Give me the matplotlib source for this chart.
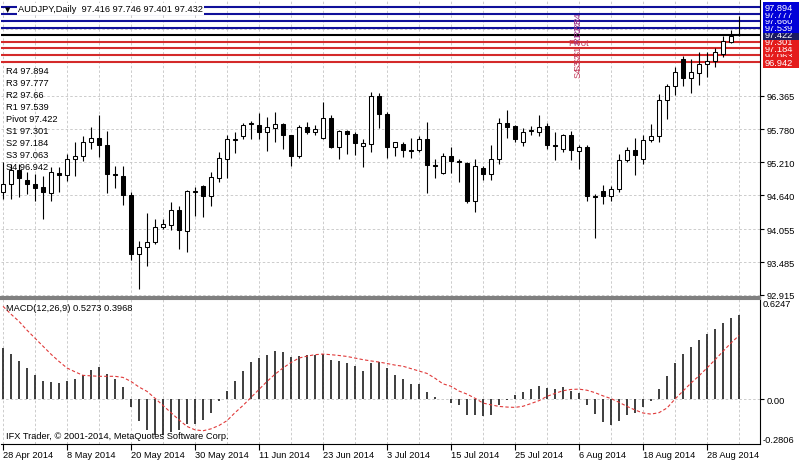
import numpy as np
import matplotlib
matplotlib.use("Agg")
import matplotlib.pyplot as plt
from matplotlib.patches import Rectangle

# AUDJPY daily candles, 28 Apr 2014 .. 3 Sep 2014 (one bar per weekday)
opens = [94.692, 94.830, 95.071, 94.899, 94.830, 94.778, 94.674, 95.019, 94.985, 95.261,
         95.313, 95.554, 95.640, 95.502, 95.002, 94.968, 94.640, 93.622, 93.743, 93.829,
         94.088, 94.123, 94.381, 94.019, 94.692, 94.795, 94.623, 94.933, 95.261, 95.589,
         95.658, 95.882, 95.865, 95.727, 95.813, 95.882, 95.675, 95.313, 95.830, 95.744,
         95.640, 95.986, 95.468, 95.761, 95.709, 95.485, 95.520, 96.365, 96.055, 95.468,
         95.520, 95.416, 95.416, 95.623, 95.157, 95.019, 95.313, 95.226, 95.192, 94.536,
         95.106, 95.002, 95.261, 95.899, 95.847, 95.571, 95.761, 95.744, 95.847, 95.502,
         95.433, 95.675, 95.399, 95.468, 94.623, 94.709, 94.623, 94.743, 95.244, 95.416,
         95.261, 95.589, 95.658, 96.296, 96.538, 97.003, 96.676, 96.762, 96.917, 96.969,
         97.090, 97.297, 97.416]
highs = [95.209, 95.175, 95.175, 95.037, 95.002, 94.968, 95.123, 95.123, 95.347, 95.571,
         95.658, 95.830, 96.037, 95.761, 95.140, 95.140, 94.692, 93.846, 94.329, 94.226,
         94.226, 94.519, 94.450, 94.726, 94.778, 94.812, 95.037, 95.382, 95.675, 95.744,
         95.899, 95.934, 96.072, 96.003, 96.089, 95.899, 95.692, 95.865, 95.916, 95.865,
         96.262, 96.037, 95.778, 95.778, 95.727, 95.606, 96.434, 96.417, 96.089, 95.571,
         95.571, 95.640, 95.658, 95.916, 95.261, 95.364, 95.468, 95.261, 95.209, 95.261,
         95.140, 95.502, 95.986, 96.124, 95.865, 95.813, 95.847, 96.037, 95.899, 95.727,
         95.709, 95.761, 95.502, 95.502, 94.657, 94.812, 94.795, 95.347, 95.468, 95.640,
         95.675, 95.882, 96.400, 96.572, 96.865, 97.055, 97.003, 97.124, 97.124, 97.193,
         97.400, 97.504, 97.746]
lows = [94.571, 94.571, 94.605, 94.657, 94.536, 94.226, 94.536, 94.692, 94.881, 94.968,
        95.226, 95.433, 95.295, 94.674, 94.761, 94.467, 93.519, 93.018, 93.415, 93.795,
        94.054, 94.036, 93.708, 93.657, 94.278, 94.260, 94.450, 94.864, 94.933, 95.364,
        95.606, 95.606, 95.606, 95.399, 95.571, 95.433, 95.140, 95.278, 95.709, 95.692,
        95.606, 95.451, 95.261, 95.347, 95.330, 95.123, 95.382, 95.813, 95.278, 95.313,
        95.295, 95.278, 95.382, 94.674, 94.933, 95.002, 95.019, 94.864, 94.502, 94.347,
        94.899, 94.899, 95.175, 95.640, 95.554, 95.485, 95.675, 95.658, 95.433, 95.244,
        95.382, 95.244, 95.088, 94.536, 93.898, 94.485, 94.536, 94.692, 95.209, 94.985,
        95.175, 95.571, 95.571, 95.968, 96.382, 96.538, 96.417, 96.555, 96.693, 96.865,
        97.038, 97.279, 97.401]
closes = [94.830, 95.071, 94.933, 94.830, 94.761, 94.692, 95.037, 94.985, 95.261, 95.313,
          95.554, 95.640, 95.502, 95.002, 94.985, 94.640, 93.622, 93.743, 93.829, 94.088,
          94.140, 94.381, 94.036, 94.709, 94.709, 94.623, 94.950, 95.278, 95.606, 95.606,
          95.865, 95.899, 95.727, 95.830, 95.882, 95.675, 95.313, 95.830, 95.744, 95.796,
          95.986, 95.468, 95.761, 95.709, 95.537, 95.537, 96.365, 96.055, 95.468, 95.554,
          95.416, 95.410, 95.623, 95.157, 95.140, 95.313, 95.226, 95.220, 94.536, 95.140,
          95.002, 95.261, 95.899, 95.830, 95.623, 95.744, 95.778, 95.830, 95.502, 95.490,
          95.675, 95.416, 95.468, 94.623, 94.610, 94.623, 94.743, 95.244, 95.416, 95.330,
          95.589, 95.658, 96.296, 96.538, 96.779, 96.676, 96.779, 96.917, 96.969, 97.124,
          97.314, 97.400, 97.432]

# MACD(12,26,9): main as histogram, signal as dashed line
macd = [0.318, 0.281, 0.239, 0.194, 0.148, 0.114, 0.106, 0.100, 0.114, 0.127,
        0.152, 0.183, 0.198, 0.156, 0.127, 0.073, -0.052, -0.135, -0.191, -0.223,
        -0.223, -0.207, -0.191, -0.156, -0.156, -0.129, -0.087, -0.015, 0.052, 0.110,
        0.177, 0.231, 0.256, 0.273, 0.302, 0.293, 0.260, 0.266, 0.277, 0.273,
        0.281, 0.246, 0.239, 0.225, 0.204, 0.177, 0.225, 0.231, 0.194, 0.148,
        0.127, 0.094, 0.094, 0.044, 0.010, 0.002, -0.025, -0.035, -0.098, -0.102,
        -0.108, -0.098, -0.035, -0.004, 0.023, 0.044, 0.065, 0.079, 0.069, 0.065,
        0.073, 0.052, 0.037, -0.040, -0.094, -0.144, -0.164, -0.139, -0.102, -0.087,
        -0.052, -0.010, 0.065, 0.146, 0.225, 0.281, 0.323, 0.370, 0.406, 0.439,
        0.474, 0.506, 0.5273]
signal = [0.579, 0.530, 0.485, 0.430, 0.380, 0.330, 0.280, 0.235, 0.194, 0.170,
          0.148, 0.145, 0.142, 0.142, 0.142, 0.135, 0.110, 0.075, 0.048, 0.005,
          -0.040, -0.085, -0.130, -0.171, -0.192, -0.198, -0.186, -0.165, -0.135, -0.085,
          -0.040, 0.010, 0.060, 0.110, 0.155, 0.194, 0.228, 0.256, 0.268, 0.277,
          0.281, 0.277, 0.272, 0.266, 0.256, 0.246, 0.238, 0.231, 0.222, 0.212,
          0.205, 0.190, 0.175, 0.160, 0.130, 0.095, 0.080, 0.050, 0.031, 0.005,
          -0.025, -0.036, -0.046, -0.050, -0.052, -0.045, -0.028, -0.010, 0.017, 0.035,
          0.052, 0.060, 0.062, 0.055, 0.040, 0.020, 0.003, -0.020, -0.046, -0.068,
          -0.087, -0.094, -0.085, -0.056, 0.000, 0.050, 0.100, 0.145, 0.194, 0.245,
          0.298, 0.350, 0.3968]

# pivot levels
level_names = ["R4", "R3", "R2", "R1", "Pivot", "S1", "S2", "S3", "S4"]
level_values = [97.894, 97.777, 97.66, 97.539, 97.422, 97.301, 97.184, 97.063, 96.942]

date_labels = ["28 Apr 2014", "8 May 2014", "20 May 2014", "30 May 2014", "11 Jun 2014",
               "23 Jun 2014", "3 Jul 2014", "15 Jul 2014", "25 Jul 2014", "6 Aug 2014",
               "18 Aug 2014", "28 Aug 2014"]
price_ticks = [96.365, 95.780, 95.210, 94.640, 94.055, 93.485, 92.915]
extra_grid = [96.940, 97.515]
macd_top, macd_bottom = 0.6247, -0.2806

plt.rcParams["font.family"] = ["Liberation Sans", "DejaVu Sans"]
plt.rcParams["font.size"] = 6.7

W, H = 799, 464
fig = plt.figure(figsize=(W / 100, H / 100), dpi=100)
ax = fig.add_axes([1 / W, 1 - 298 / H, 759 / W, 297 / H])
ax2 = fig.add_axes([1 / W, 1 - 445 / H, 759 / W, 145 / H])

n = len(opens)
x = np.arange(n)
xlim = (-0.25, 94.625)
grid_kw = dict(color="#c4c4c4", lw=0.6, dashes=(3, 2.5), zorder=0)

# ---- main price panel ----
ax.set_xlim(*xlim)
ax.set_ylim(92.880, 98.020)
for v in price_ticks + extra_grid:
    ax.axhline(v, **grid_kw)
for b in range(0, n, 4):
    ax.axvline(b, **grid_kw)
    ax2.axvline(b, **grid_kw)

line_colors = ["#10109a"] * 4 + ["black"] + ["#d42a2a"] * 4
for v, c in zip(level_values, line_colors):
    ax.axhline(v, color=c, lw=1.5, zorder=1)

ax.vlines(x, lows, highs, color="black", lw=0.8, zorder=3)
for i in range(n):
    o, c = opens[i], closes[i]
    fc = "white" if c >= o else "black"
    ax.add_patch(Rectangle((i - 0.3, min(o, c)), 0.6, abs(c - o), facecolor=fc,
                           edgecolor="black", lw=0.75, zorder=4))

for spine in ["left", "top"]:
    ax.spines[spine].set_visible(False)
ax.spines["right"].set_color("black")
ax.spines["right"].set_linewidth(0.8)
ax.spines["bottom"].set_color("#808080")
ax.spines["bottom"].set_linewidth(1.5)
ax.set_xticks([])
ax.yaxis.tick_right()
ax.set_yticks(price_ticks, [f"{v:.3f}" for v in price_ticks])
ax.tick_params(axis="y", length=3, width=0.8, pad=1.5, labelsize=6.7)

# rotated pivot names in the middle of the chart
for name, v in zip(level_names, level_values):
    rot = 0 if name == "Pivot" else 90
    col = "#9a3088" if name.startswith("R") else "#c23a5a"
    ax.annotate(name, (71.9, v), xytext=(0, -2.5), textcoords="offset points",
                rotation=rot, ha="center", va="top", color=col, fontsize=6.7,
                zorder=5)

# coloured price boxes on the right axis
box_colors = {"R": "#0000d8", "P": "#1a1a60", "S": "#e41b1b"}
order = [7, 8, 6, 5, 4, 3, 2, 1, 0]
for k, idx in enumerate(order):
    v = level_values[idx]
    col = box_colors[level_names[idx][0]]
    ax.add_patch(Rectangle((1.0036, v - 0.095), 0.05, 0.19, transform=ax.get_yaxis_transform(),
                           facecolor=col, edgecolor="none", clip_on=False, zorder=10 + 2 * k))
    ax.text(1.006, v, f"{v:.3f}", transform=ax.get_yaxis_transform(), color="white",
            va="center", ha="left", fontsize=6.7, clip_on=False, zorder=11 + 2 * k)

# pivot list on the left
for k, (name, v) in enumerate(zip(level_names, level_values)):
    fig.text(6.5 / W, 1 - (71.7 + 11.95 * k) / H, f"{name} {v}", va="center", ha="left",
             fontsize=6.7, zorder=6)

# header
fig.text(18 / W, 1 - 10 / H,
         f"AUDJPY,Daily  {opens[-1]:.3f} {highs[-1]:.3f} {lows[-1]:.3f} {closes[-1]:.3f}",
         va="center", ha="left", fontsize=6.7, zorder=30,
         bbox=dict(boxstyle="square,pad=0.15", facecolor="white", edgecolor="none"))
fig.text(5 / W, 1 - 10 / H, "\u25bc", va="center", ha="left", fontsize=5,
         family="DejaVu Sans", zorder=31)

# ---- MACD panel ----
ax2.set_xlim(*xlim)
ax2.set_ylim(macd_bottom, macd_top)
ax2.axhline(0, **grid_kw)
ax2.vlines(x, 0, macd, color="#1e1e1e", lw=1.2, zorder=2)
ax2.plot(x, signal, color="#e03a3a", lw=0.8, dashes=(3, 2), zorder=3)

ax2.spines["left"].set_visible(False)
ax2.spines["top"].set_color("#808080")
ax2.spines["top"].set_linewidth(1.5)
for spine in ["right", "bottom"]:
    ax2.spines[spine].set_color("black")
    ax2.spines[spine].set_linewidth(0.8)
ax2.yaxis.tick_right()
ax2.set_yticks([0.0], ["0.00"])
ax2.tick_params(axis="y", length=3, width=0.8, pad=1.5, labelsize=6.7)
ax2.text(1.004, macd_top, f"{macd_top:.4f}", transform=ax2.get_yaxis_transform(),
         va="top", ha="left", fontsize=6.7, clip_on=False)
ax2.text(1.004, macd_bottom, f"{macd_bottom:.4f}", transform=ax2.get_yaxis_transform(),
         va="bottom", ha="left", fontsize=6.7, clip_on=False)

ax2.set_xticks(np.arange(len(date_labels)) * 8, date_labels)
for lab in ax2.get_xticklabels():
    lab.set_horizontalalignment("left")
ax2.tick_params(axis="x", length=4, width=0.8, pad=0.5, labelsize=6.7)

ax2.text(0.007, 0.97, f"MACD(12,26,9) {macd[-1]:.4f} {signal[-1]:.4f}",
         transform=ax2.transAxes, va="top", ha="left", fontsize=6.7)
ax2.text(0.007, 0.03, "IFX Trader, \u00a9 2001-2014, MetaQuotes Software Corp.",
         transform=ax2.transAxes, va="bottom", ha="left", fontsize=6.7)

fig.savefig("out.png", dpi=100)
